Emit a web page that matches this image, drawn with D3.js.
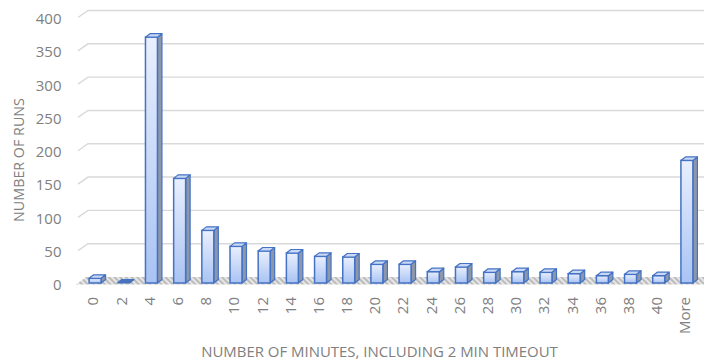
<!DOCTYPE html>
<html>
<head>
<meta charset="utf-8">
<script src="https://cdn.jsdelivr.net/npm/d3@7"></script>
<style>
  html, body { margin: 0; padding: 0; background: #ffffff; }
  svg { display: block; }
  text { font-family: "Open Sans", "Noto Sans", sans-serif; fill: #808080; }
</style>
</head>
<body>
<script>
// Histogram of run durations (minutes, bins of 2 incl. 2 min timeout)
const categories = ["0","2","4","6","8","10","12","14","16","18","20",
                    "22","24","26","28","30","32","34","36","38","40","More"];
const runs = [7, 0, 369, 157, 79, 55, 48, 45, 40, 39, 28,
              28, 17, 24, 16, 17, 16, 14, 11, 13, 11, 184];
const yTicks = [0, 50, 100, 150, 200, 250, 300, 350, 400];
const xTitle = "NUMBER OF MINUTES, INCLUDING 2 MIN TIMEOUT";
const yTitle = "NUMBER OF RUNS";

const W = 704, H = 364;
const svg = d3.select("body").append("svg").attr("width", W).attr("height", H);

// front-plane value scale and category bands
const y = d3.scaleLinear().domain([0, 400]).range([284, 17.5]);
const x = d3.scaleBand().domain(categories).range([81, 701])
  .paddingInner(0.575).paddingOuter(0.2875);

// perspective offsets: back wall, and bar depth
const wallDx = 10, wallDy = -7;
const barDx = 4.5, barDy = -3.5;
const barShiftY = -1;

const defs = svg.append("defs");
const grad = defs.append("linearGradient").attr("id", "barFront")
  .attr("x1", 0).attr("y1", 0).attr("x2", 0).attr("y2", 1);
grad.append("stop").attr("offset", "0%").attr("stop-color", "#e9effd");
grad.append("stop").attr("offset", "100%").attr("stop-color", "#a9c3f3");

const hatch = defs.append("pattern").attr("id", "floorHatch")
  .attr("width", 4).attr("height", 4)
  .attr("patternUnits", "userSpaceOnUse")
  .attr("patternTransform", "rotate(-45)");
hatch.append("rect").attr("width", 4).attr("height", 4).attr("fill", "#e6e6e6");
hatch.append("rect").attr("width", 2).attr("height", 4).attr("fill", "#bcbcbc");

// floor
const y0 = y(0);
svg.append("path")
  .attr("d", `M76,${y0 + 0.5} L${76 + wallDx},${y0 + wallDy} L${W},${y0 + wallDy} L${W},${y0 + 0.5} Z`)
  .attr("fill", "url(#floorHatch)");

// gridlines on the back wall, with short diagonal leaders from the axis
svg.append("g").selectAll("path")
  .data(yTicks.filter(d => d > 0))
  .join("path")
  .attr("d", d => `M78,${y(d)} L${78 + wallDx},${y(d) + wallDy} L${W},${y(d) + wallDy}`)
  .attr("fill", "none")
  .attr("stroke", "#d9d9d9")
  .attr("stroke-width", 1.4);

// y tick labels
svg.append("g").selectAll("text")
  .data(yTicks)
  .join("text")
  .attr("x", 61.5)
  .attr("y", d => y(d) + 1)
  .attr("dy", "0.36em")
  .attr("text-anchor", "end")
  .attr("font-size", 15)
  .text(d => d);

// 3D columns
const bw = x.bandwidth();
const bars = svg.append("g").selectAll("g")
  .data(categories.map((c, i) => ({ c, v: runs[i] })))
  .join("g");

bars.each(function(d) {
  const g = d3.select(this);
  const x0 = x(d.c), x1 = x0 + bw;
  const yb = y(0) + barShiftY, yt = y(d.v) + barShiftY;
  // side face
  g.append("path")
    .attr("d", `M${x1},${yt} L${x1 + barDx},${yt + barDy} L${x1 + barDx},${yb + barDy} L${x1},${yb} Z`)
    .attr("fill", "#8d97aa")
    .attr("stroke", "#4472c4").attr("stroke-width", 1.2).attr("stroke-linejoin", "round");
  // front face
  if (d.v > 0) {
    g.append("rect")
      .attr("x", x0).attr("y", yt)
      .attr("width", bw).attr("height", yb - yt)
      .attr("fill", "url(#barFront)")
      .attr("stroke", "#4472c4").attr("stroke-width", 1.5);
  }
  // top face
  g.append("path")
    .attr("d", `M${x0},${yt} L${x0 + barDx},${yt + barDy} L${x1 + barDx},${yt + barDy} L${x1},${yt} Z`)
    .attr("fill", d.v > 0 ? "#c9d8f6" : "#4a72bd")
    .attr("stroke", "#4472c4").attr("stroke-width", 1.2).attr("stroke-linejoin", "round");
});

// x tick labels, rotated
svg.append("g").selectAll("text")
  .data(categories)
  .join("text")
  .attr("transform", d => `translate(${x(d) + bw / 2 - 2},297) rotate(-90)`)
  .attr("dy", "0.36em")
  .attr("text-anchor", "end")
  .attr("font-size", 15)
  .text(d => d);

// scale a text's font so that it spans the given width
function fitWidth(sel, target) {
  const w = sel.node().getComputedTextLength();
  const fs = parseFloat(sel.attr("font-size"));
  if (w > 0) sel.attr("font-size", fs * target / w);
}

// axis titles
const xt = svg.append("text")
  .attr("x", 379.5).attr("y", 357)
  .attr("text-anchor", "middle")
  .attr("font-size", 13)
  .text(xTitle);
fitWidth(xt, 357);

const yt = svg.append("text")
  .attr("transform", "translate(23.5,160) rotate(-90)")
  .attr("text-anchor", "middle")
  .attr("font-size", 13)
  .text(yTitle);
fitWidth(yt, 124);
</script>
</body>
</html>
